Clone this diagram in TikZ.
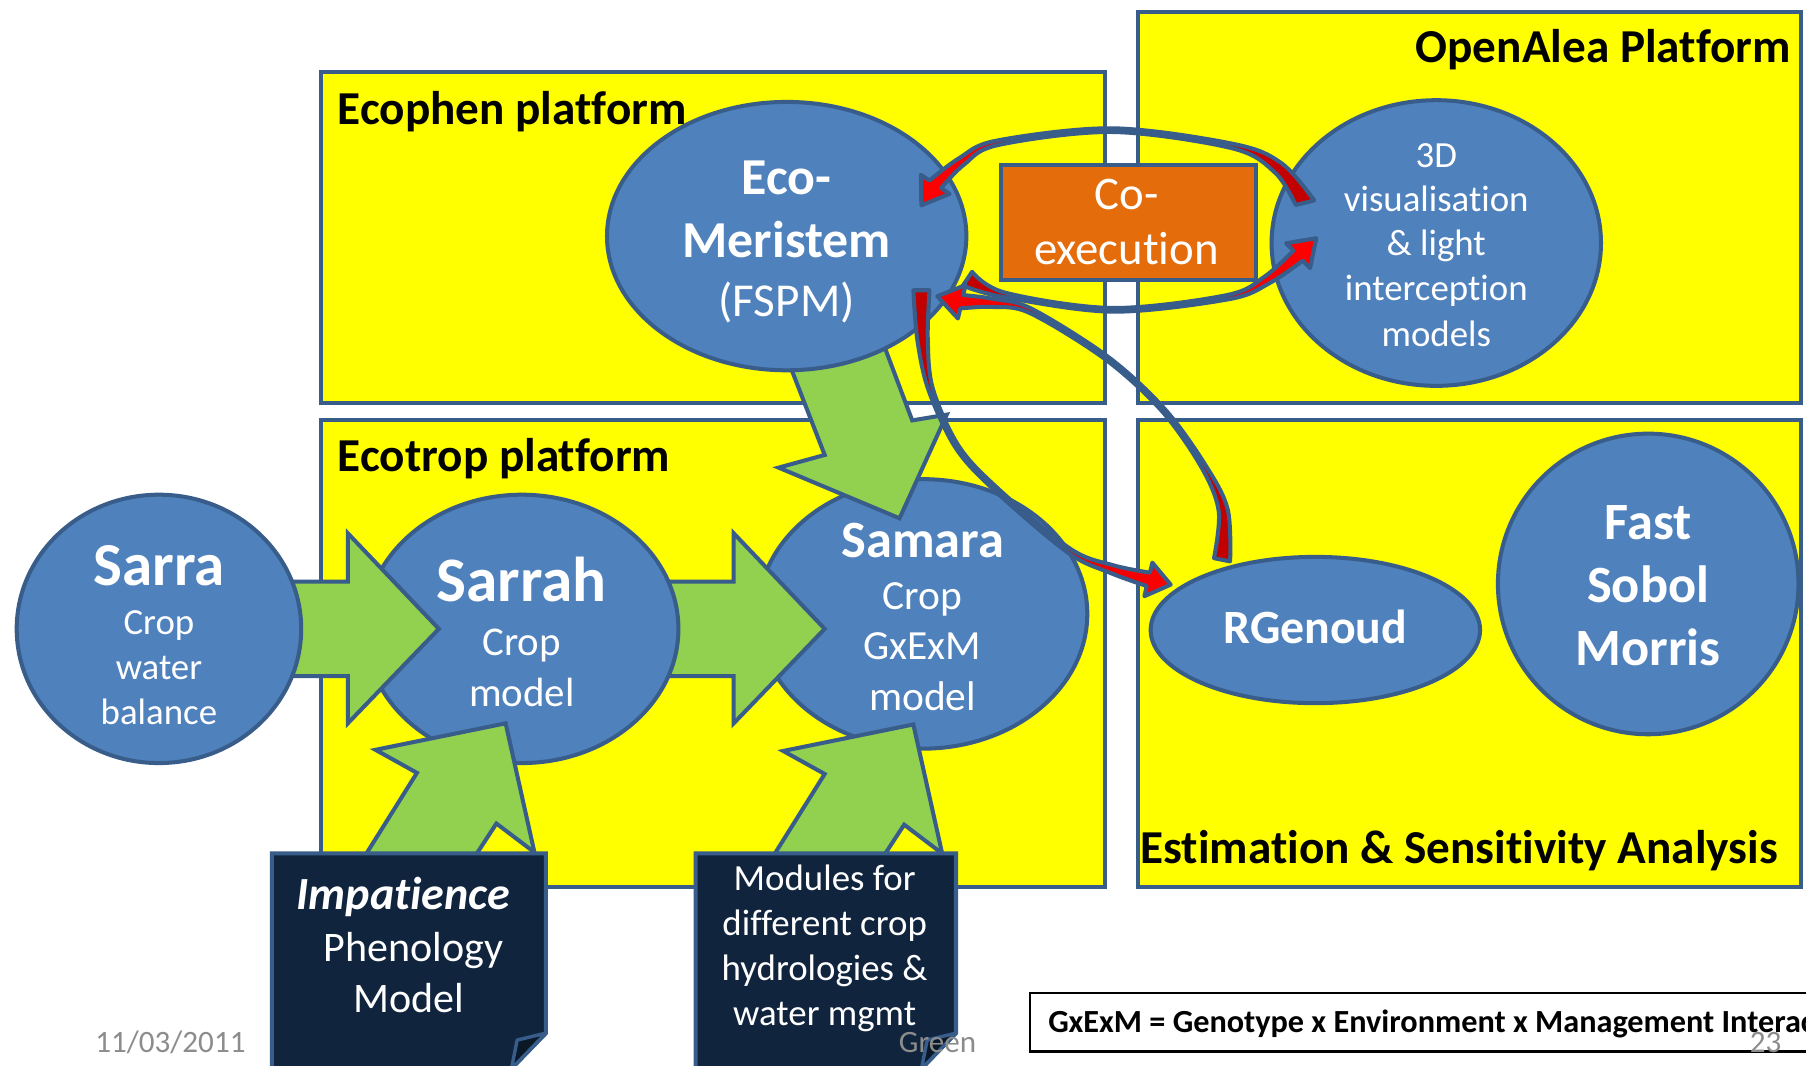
\documentclass[tikz,border=0pt]{standalone}
\usepackage{fontspec}
\setmainfont{Carlito}[Ligatures=NoCommon]
\usetikzlibrary{shapes.geometric}
\definecolor{yel}{HTML}{FFFF00}
\definecolor{bord}{HTML}{385D8A}
\definecolor{eblue}{HTML}{4F81BD}
\definecolor{agreen}{HTML}{92D050}
\definecolor{orng}{HTML}{E46C0A}
\definecolor{navy}{HTML}{10243E}
\definecolor{navyd}{HTML}{0A1828}
\definecolor{dred}{HTML}{C00000}
\definecolor{foot}{HTML}{8C8C8C}
\begin{document}
\begin{tikzpicture}[x=1pt,y=-1pt,
  plat/.style={draw=bord, fill=yel, line width=3.5pt, inner sep=0pt, anchor=north west},
  ell/.style={ellipse, draw=bord, fill=eblue, line width=3.5pt, inner sep=0pt},
  garrow/.style={draw=bord, fill=agreen, line width=3.5pt, line join=miter},
  docbox/.style={draw=bord, fill=navy, line width=3.5pt, line join=miter},
  foldc/.style={draw=bord, fill=navyd, line width=3pt, line join=round},
  conn/.style={draw=bord, line width=3.5pt, line join=round},
  ttl/.style={font=\fontsize{41}{49}\selectfont\bfseries, inner sep=0pt, text=black},
  wr/.style={text=white, inner sep=0pt, anchor=base, font=\fontsize{#1}{#1}\selectfont},
  wb/.style={text=white, inner sep=0pt, anchor=base, font=\fontsize{#1}{#1}\selectfont\bfseries},
  ft/.style={text=foot, inner sep=0pt, anchor=base, font=\fontsize{27}{27}\selectfont}
]
\useasboundingbox (0,0) rectangle (1568,925);
\clip (0,0) rectangle (1568,925);
\fill[white] (0,0) rectangle (1568,925);

% platforms
\node[plat, minimum width=681pt, minimum height=287pt] (ecophen) at (277,61) {};
\node[plat, minimum width=576pt, minimum height=339pt] (openalea) at (986,9) {};
\node[plat, minimum width=681pt, minimum height=405pt] (ecotrop) at (277,363) {};
\node[plat, minimum width=576pt, minimum height=405pt] (estim) at (986,363) {};

% ellipses (lower layer)
\node[ell, minimum width=286pt, minimum height=234pt] (samara) at (801,533) {};
\node[ell, minimum width=286pt, minimum height=127pt] (rgenoud) at (1142,547) {};
\node[ell, minimum width=261pt, minimum height=261pt] (fast) at (1431,507) {};
\node[ell, minimum width=286pt, minimum height=248pt] (vis) at (1247,211) {};

% green block arrows (under Sarrah / Eco)
\draw[garrow] (570,505) -- (637,505) -- (637,463) -- (716,546) -- (637,628) -- (637,587) -- (570,587) -- cycle;
\draw[garrow] (676,292) -- (716,395) -- (676,406) -- (781,450) -- (822,360) -- (792,365) -- (760,280) -- cycle;
\draw[garrow] (654,771) -- (716,672) -- (680,652) -- (793,629) -- (818,741) -- (785,716) -- (751,768) -- cycle;

\node[ell, minimum width=272pt, minimum height=233pt] (sarrah) at (453,546) {};

\draw[garrow] (248,505) -- (302,505) -- (302,463) -- (381,546) -- (302,628) -- (302,587) -- (248,587) -- cycle;
\draw[garrow] (300,770) -- (362,671) -- (326,651) -- (439,628) -- (464,740) -- (431,715) -- (397,767) -- cycle;

\node[ell, minimum width=247pt, minimum height=233pt] (sarra) at (138,546) {};
\node[ell, minimum width=312pt, minimum height=233pt] (eco) at (683,205) {};

% document boxes
\draw[docbox] (236,741) -- (474,741) -- (474,897) -- (444,928) -- (236,928) -- cycle;
\draw[foldc] (474,897) -- (449,903) -- (444,928) -- cycle;
\draw[docbox] (604,741) -- (830,741) -- (830,897) -- (800,928) -- (604,928) -- cycle;
\draw[foldc] (830,897) -- (805,903) -- (800,928) -- cycle;

% co-execution
\node[draw=bord, fill=orng, line width=3.5pt, inner sep=0pt, anchor=north west,
      minimum width=221pt, minimum height=100pt] (coex) at (867.5,141.5) {};

% curved connectors
% A: 3D -> Eco-Meristem (top)
\draw[conn, left color=red, right color=dred]
  plot[smooth, tension=0.55] coordinates {(1141,174) (1112.7,141.8) (1071.6,125.1) (966,111.4) (865.3,122.1) (832.9,137.2) (807,156.7)}
  -- (799.5,151.8) -- (799.9,178.3) -- (824.5,168.3) --
  plot[smooth, tension=0.55] coordinates {(817,163.3) (837.1,142.8) (866.7,125.9) (966,114.6) (1070.4,128.9) (1107.3,150.2) (1125,178)}
  -- cycle;
% B: Eco-Meristem -> 3D (bottom)
\draw[conn, left color=dred, right color=red]
  plot[smooth, tension=0.55] coordinates {(836,248) (871.3,257.9) (966,270.6) (1066.8,259.8) (1101.9,246) (1131.1,226.3)}
  -- (1137.4,232.8) -- (1142.8,206.8) -- (1116.6,211.2) --
  plot[smooth, tension=0.55] coordinates {(1122.9,217.7) (1098.1,240) (1065.2,256.2) (966,267.4) (872.7,254.1) (844,236)}
  -- cycle;
% C: RGenoud -> Eco-Meristem
\draw[conn, left color=red, right color=dred]
  plot[smooth, tension=0.55] coordinates {(1068,487.4) (1065.9,442.2) (1046.8,404.1) (1011.2,355) (962.1,309.8) (895.7,268.1) (862.5,259.5) (836.3,256.2)}
  -- (838.3,247.5) -- (813.7,257.2) -- (831.7,276.5) --
  plot[smooth, tension=0.55] coordinates {(833.7,267.8) (861.5,266.5) (894.3,271.9) (959.9,312.2) (1008.8,357) (1043.2,405.9) (1058.1,443.8) (1054,484.6)}
  -- cycle;
% D: Eco-Meristem -> RGenoud
\draw[conn, left color=dred, right color=red]
  plot[smooth, tension=0.55] coordinates {(793,252) (796.5,295.5) (806.1,338.6) (829.7,388.9) (863.9,426.2) (927,479.7) (963.7,497.3) (995.6,508.8)}
  -- (993.6,517.6) -- (1016.4,507.6) -- (1000.5,488.5) --
  plot[smooth, tension=0.55] coordinates {(998.4,497.2) (966.3,490.7) (929,476.3) (866.1,423.8) (832.3,387.1) (809.9,337.4) (805.5,294.5) (807,252)}
  -- cycle;

% legend box
\node[draw=black, fill=white, line width=2pt, inner sep=0pt, anchor=north west,
      minimum width=720pt, minimum height=51pt] (gxe) at (893,861) {};

% titles
\node[ttl, anchor=base west] (t1) at (293,108) {Ecophen platform};
\node[ttl, anchor=base east] (t2) at (1555,54) {OpenAlea Platform};
\node[ttl, anchor=base west] (t3) at (293,409) {Ecotrop platform};
\node[ttl, anchor=base west] (t4) at (990,750) {Estimation \& Sensitivity Analysis};

% ellipse texts
\node[wb=45] (ecoA) at (683,169) {Eco-};
\node[wb=45] (ecoB) at (683,224) {Meristem};
\node[wr=41] (ecoC) at (683,275) {(FSPM)};

\node[wr=32] (visA) at (1247,145) {3D};
\node[wr=32] (visB) at (1247,184) {visualisation};
\node[wr=32] (visC) at (1247,222) {\& light};
\node[wr=32] (visD) at (1247,261) {interception};
\node[wr=32] (visE) at (1247,301) {models};

\node[wb=53] (sarraA) at (138,508) {Sarra};
\node[wr=32] (sarraB) at (138,551) {Crop};
\node[wr=32] (sarraC) at (138,590) {water};
\node[wr=32] (sarraD) at (138,629) {balance};

\node[wb=55] (sarrahA) at (453,522) {Sarrah};
\node[wr=35.5] (sarrahB) at (453,569) {Crop};
\node[wr=35.5] (sarrahC) at (453,613) {model};

\node[wb=45.5] (samaraA) at (801,484) {Samara};
\node[wr=36] (samaraB) at (801,529) {Crop};
\node[wr=36] (samaraC) at (801,573) {GxExM};
\node[wr=36] (samaraD) at (801,617) {model};

\node[wb=41.5] (rgA) at (1142,559) {RGenoud};

\node[wb=45.5] (fastA) at (1431,468) {Fast};
\node[wb=45.5] (fastB) at (1431,523) {Sobol};
\node[wb=45.5] (fastC) at (1431,578) {Morris};

\node[wr=40.6] (coexA) at (978,182) {Co-};
\node[wr=40.6] (coexB) at (978,230) {execution};

\node[text=white, inner sep=0pt, anchor=base, font=\fontsize{40}{40}\selectfont\bfseries\itshape] (impA) at (350,790) {Impatience};
\node[wr=36.5] (impB) at (359,835) {Phenology};
\node[wr=36.5] (impC) at (355,879) {Model};

\node[wr=32] (modA) at (716,773) {Modules for};
\node[wr=32] (modB) at (716,812) {different crop};
\node[wr=32] (modC) at (716,851) {hydrologies \&};
\node[wr=32] (modD) at (716,890) {water mgmt};

\node[inner sep=0pt, anchor=base west, font=\fontsize{28}{28}\selectfont\bfseries] (gxeT) at (910,896) {GxExM = Genotype x Environment x Management Interaction};

% footer
\node[ft] (date) at (148,914) {11/03/2011};
\node[ft] (green) at (814,914) {Green};
\node[ft] (page) at (1533,914) {23};
\end{tikzpicture}
\end{document}
